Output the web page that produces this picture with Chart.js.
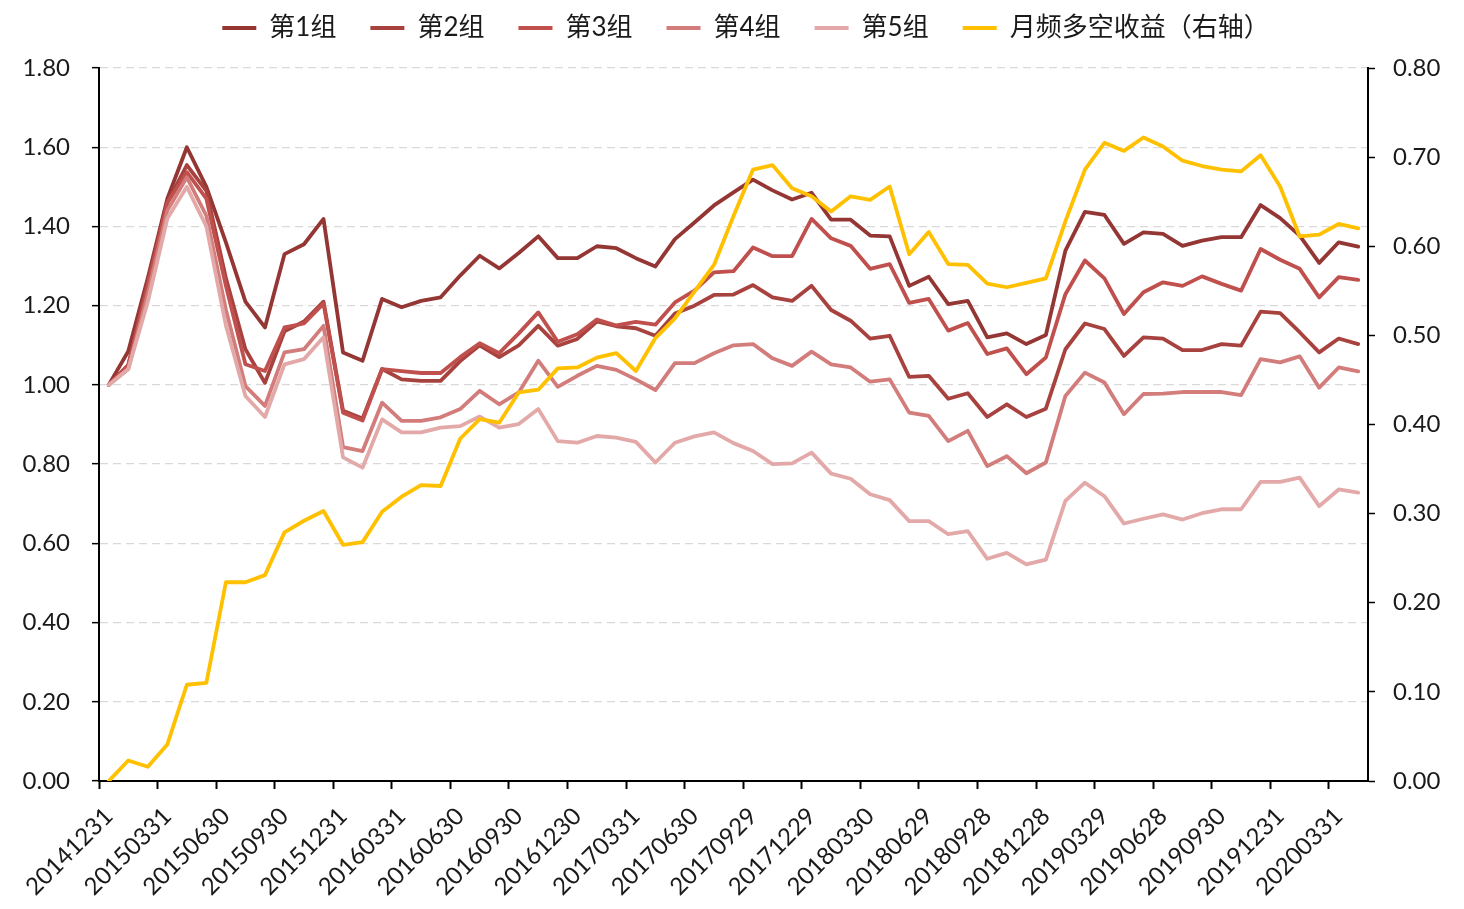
<!DOCTYPE html>
<html>
<head>
<meta charset="utf-8">
<title>分组净值与月频多空收益</title>
<script src="https://cdn.jsdelivr.net/npm/chart.js@4.4.1/dist/chart.umd.min.js"></script>
<style>
  body { margin: 0; background: #fff; }
  canvas { display: block; }
</style>
</head>
<body>
<canvas id="line-chart" width="1464" height="909"></canvas>
<script>
// monthly points, 201412 - 202004, one label every third month
const months = [
  '201412',
  '201501', '201502', '201503', '201504', '201505', '201506', '201507', '201508', '201509', '201510', '201511', '201512',
  '201601', '201602', '201603', '201604', '201605', '201606', '201607', '201608', '201609', '201610', '201611', '201612',
  '201701', '201702', '201703', '201704', '201705', '201706', '201707', '201708', '201709', '201710', '201711', '201712',
  '201801', '201802', '201803', '201804', '201805', '201806', '201807', '201808', '201809', '201810', '201811', '201812',
  '201901', '201902', '201903', '201904', '201905', '201906', '201907', '201908', '201909', '201910', '201911', '201912',
  '202001', '202002', '202003', '202004'
];

const tickLabels = [
  '20141231', '20150331', '20150630', '20150930', '20151231', '20160331', '20160630', '20160930',
  '20161230', '20170331', '20170630', '20170929', '20171229', '20180330', '20180629', '20180928',
  '20181228', '20190329', '20190628', '20190930', '20191231', '20200331'
];

const group1 = [1.00, 1.085, 1.27, 1.47, 1.60, 1.50, 1.36, 1.21, 1.145, 1.33,
  1.355, 1.419, 1.082, 1.061, 1.217, 1.196, 1.212, 1.221, 1.276, 1.326,
  1.294, 1.333, 1.375, 1.320, 1.320, 1.350, 1.345, 1.320, 1.299, 1.368,
  1.410, 1.453, 1.486, 1.518, 1.491, 1.468, 1.485, 1.417, 1.417, 1.377,
  1.375, 1.250, 1.273, 1.204, 1.212, 1.120, 1.130, 1.103, 1.126, 1.339,
  1.437, 1.429, 1.356, 1.385, 1.381, 1.351, 1.364, 1.373, 1.373, 1.454,
  1.421, 1.377, 1.308, 1.360, 1.349];

const group2 = [1.00, 1.05, 1.26, 1.46, 1.555, 1.49, 1.27, 1.09, 1.005, 1.135,
  1.16, 1.21, 0.935, 0.915, 1.04, 1.014, 1.010, 1.010, 1.060, 1.100,
  1.070, 1.100, 1.149, 1.099, 1.116, 1.160, 1.148, 1.143, 1.124, 1.180,
  1.200, 1.227, 1.228, 1.252, 1.221, 1.212, 1.250, 1.189, 1.162, 1.117,
  1.124, 1.020, 1.023, 0.965, 0.979, 0.919, 0.951, 0.919, 0.940, 1.090,
  1.155, 1.141, 1.073, 1.120, 1.117, 1.088, 1.088, 1.103, 1.099, 1.185,
  1.181, 1.133, 1.082, 1.117, 1.103];

const group3 = [1.00, 1.05, 1.25, 1.46, 1.537, 1.47, 1.25, 1.052, 1.035, 1.145,
  1.155, 1.205, 0.93, 0.91, 1.04, 1.035, 1.030, 1.030, 1.070, 1.105,
  1.080, 1.130, 1.183, 1.109, 1.128, 1.165, 1.150, 1.159, 1.152, 1.208,
  1.238, 1.284, 1.287, 1.347, 1.325, 1.325, 1.419, 1.370, 1.351, 1.293,
  1.305, 1.207, 1.217, 1.137, 1.156, 1.078, 1.092, 1.027, 1.069, 1.229,
  1.314, 1.269, 1.179, 1.234, 1.259, 1.250, 1.274, 1.255, 1.238, 1.343,
  1.316, 1.293, 1.221, 1.272, 1.265];

const group4 = [1.00, 1.04, 1.23, 1.44, 1.524, 1.427, 1.19, 0.997, 0.947, 1.082,
  1.09, 1.149, 0.843, 0.833, 0.955, 0.909, 0.909, 0.918, 0.939, 0.985,
  0.951, 0.981, 1.061, 0.995, 1.023, 1.048, 1.038, 1.014, 0.987, 1.055,
  1.055, 1.080, 1.100, 1.103, 1.067, 1.048, 1.084, 1.052, 1.044, 1.008,
  1.014, 0.930, 0.922, 0.858, 0.884, 0.795, 0.820, 0.777, 0.804, 0.972,
  1.031, 1.006, 0.926, 0.977, 0.978, 0.982, 0.982, 0.982, 0.974, 1.065,
  1.057, 1.072, 0.993, 1.044, 1.034];

const group5 = [1.00, 1.04, 1.21, 1.42, 1.50, 1.40, 1.15, 0.972, 0.919, 1.052,
  1.065, 1.12, 0.817, 0.791, 0.913, 0.880, 0.880, 0.892, 0.896, 0.920,
  0.892, 0.901, 0.939, 0.858, 0.854, 0.871, 0.867, 0.856, 0.804, 0.854,
  0.870, 0.880, 0.853, 0.833, 0.800, 0.802, 0.829, 0.776, 0.763, 0.724,
  0.709, 0.656, 0.656, 0.623, 0.631, 0.561, 0.576, 0.547, 0.559, 0.707,
  0.753, 0.719, 0.650, 0.662, 0.673, 0.660, 0.676, 0.686, 0.686, 0.755,
  0.755, 0.766, 0.694, 0.736, 0.728];

// right axis
const longShort = [0.000, 0.023, 0.016, 0.041, 0.108, 0.110, 0.223, 0.223, 0.231, 0.279,
  0.292, 0.303, 0.265, 0.268, 0.302, 0.319, 0.332, 0.331, 0.384, 0.406,
  0.402, 0.436, 0.439, 0.463, 0.464, 0.475, 0.480, 0.460, 0.497, 0.519,
  0.549, 0.579, 0.634, 0.686, 0.691, 0.665, 0.656, 0.639, 0.656, 0.652,
  0.667, 0.591, 0.616, 0.580, 0.579, 0.558, 0.554, 0.559, 0.564, 0.628,
  0.686, 0.716, 0.707, 0.722, 0.712, 0.696, 0.690, 0.686, 0.684, 0.702,
  0.667, 0.611, 0.613, 0.625, 0.620];

const groupNames = ['第1组', '第2组', '第3组', '第4组', '第5组'];
const groupColors = ['#943634', '#A8423F', '#C0504D', '#D27D7B', '#E3A9A8'];
const groups = [group1, group2, group3, group4, group5];

Chart.defaults.font.family = 'Lato, "Noto Sans CJK SC", sans-serif';
Chart.defaults.color = '#1a1a1a';

// extra room under the legend, and nudge the legend a bit right
const legendSpace = {
  id: 'legendSpace',
  beforeInit(chart) {
    const fit = chart.legend.fit;
    chart.legend.fit = function () {
      fit.bind(chart.legend)();
      this.height += 17;
    };
  },
  afterLayout(chart) {
    chart.legend.left += 14;
    chart.legend.right += 14;
  }
};

const datasets = groups.map((values, i) => ({
  label: groupNames[i],
  data: values,
  yAxisID: 'y',
  borderColor: groupColors[i],
  backgroundColor: groupColors[i],
  borderWidth: 3.8,
  pointRadius: 0,
  order: 6 - i   // later groups drawn on top, like excel
}));

datasets.push({
  label: '月频多空收益（右轴）',
  data: longShort,
  yAxisID: 'y1',
  borderColor: '#FFC000',
  backgroundColor: '#FFC000',
  borderWidth: 3.8,
  pointRadius: 0,
  order: 0
});

new Chart(document.getElementById('line-chart'), {
  type: 'line',
  data: {
    labels: months,
    datasets: datasets
  },
  plugins: [legendSpace],
  options: {
    responsive: false,
    animation: false,
    layout: { padding: { top: -19, left: 0, right: 0, bottom: 0 } },
    elements: {
      line: { tension: 0, borderJoinStyle: 'round', borderCapStyle: 'round' }
    },
    plugins: {
      tooltip: { enabled: false },
      legend: {
        position: 'top',
        labels: {
          boxWidth: 34,
          boxHeight: 4,
          padding: 34,
          font: { size: 26 },
          sort: (a, b) => a.datasetIndex - b.datasetIndex,
          generateLabels: (chart) => Chart.defaults.plugins.legend.labels.generateLabels(chart)
            .map(item => Object.assign(item, { lineWidth: 0 }))
        }
      }
    },
    scales: {
      x: {
        type: 'category',
        offset: true,
        grid: {
          offset: true,
          drawOnChartArea: false,
          tickLength: 8,
          tickWidth: 2,
          tickColor: (ctx) => ctx.index % 3 === 0 ? '#000' : 'rgba(0,0,0,0)'
        },
        border: { color: '#000', width: 2 },
        ticks: {
          autoSkip: false,
          minRotation: 45,
          maxRotation: 45,
          padding: 13,
          font: { size: 24 },
          callback: (value, index) => index % 3 === 0 ? tickLabels[index / 3] : ''
        },
        afterFit: (scale) => { scale.height = 128; }
      },
      y: {
        position: 'left',
        min: 0,
        max: 1.8,
        ticks: {
          stepSize: 0.2,
          padding: 22,
          font: { size: 24 },
          callback: (value) => value.toFixed(2)
        },
        grid: {
          color: (ctx) => ctx.index === 0 ? 'rgba(0,0,0,0)' : '#d9d9d9',
          lineWidth: 1.3,
          tickLength: 7,
          tickColor: '#000',
          tickWidth: 1.5
        },
        border: { color: '#000', width: 2, dash: [8, 5] },
        afterFit: (scale) => { scale.width = 99; }
      },
      y1: {
        position: 'right',
        min: 0,
        max: 0.8,
        ticks: {
          stepSize: 0.1,
          padding: 18,
          font: { size: 24 },
          callback: (value) => value.toFixed(2)
        },
        grid: {
          drawOnChartArea: false,
          tickLength: 7,
          tickColor: '#000',
          tickWidth: 1.5
        },
        border: { color: '#000', width: 2 },
        afterFit: (scale) => { scale.width = 96; }
      }
    }
  }
});
</script>
</body>
</html>
